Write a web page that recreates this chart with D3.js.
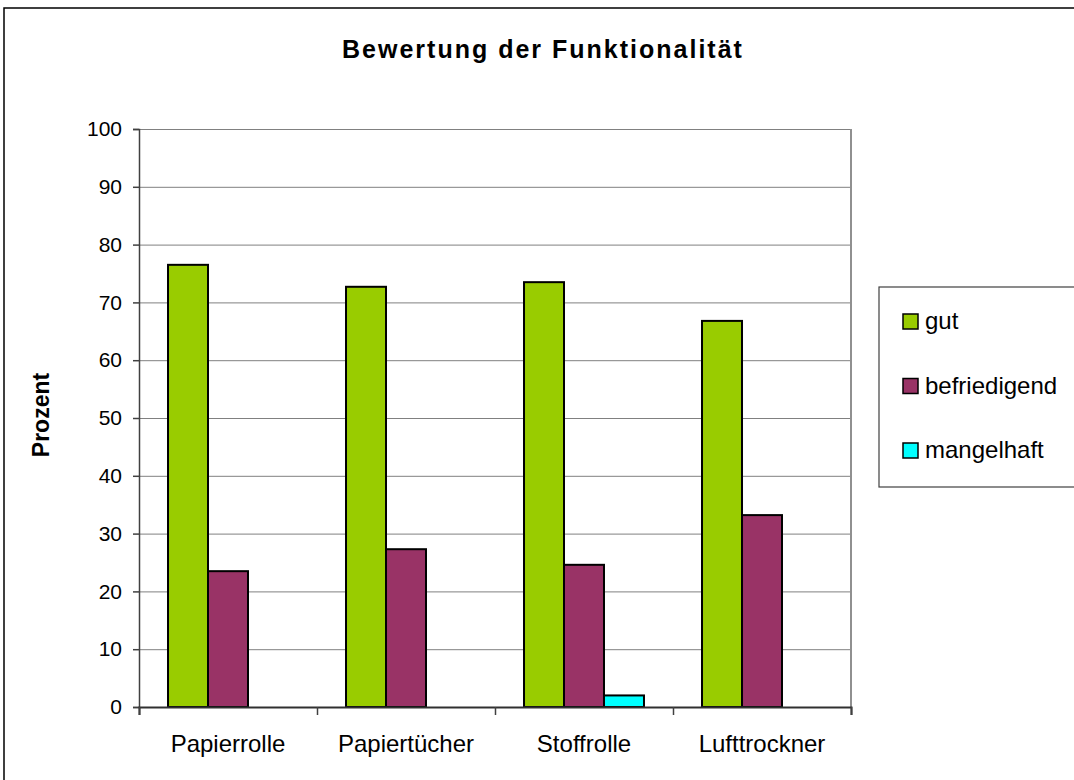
<!DOCTYPE html>
<html>
<head>
<meta charset="utf-8">
<script src="https://cdn.jsdelivr.net/npm/d3@7"></script>
<style>
  body { margin: 0; background: #fff; }
  svg { display: block; font-family: "Liberation Sans", Arial, sans-serif; }
  .grid line { stroke: #808080; stroke-width: 1; }
  .grid path { display: none; }
</style>
</head>
<body>
<svg width="1074" height="780"></svg>
<script>
// data
var categories = ["Papierrolle", "Papiertücher", "Stoffrolle", "Lufttrockner"];
var seriesNames = ["gut", "befriedigend", "mangelhaft"];
var gut = [76.5, 72.7, 73.5, 66.8];
var befriedigend = [23.5, 27.3, 24.6, 33.2];
var mangelhaft = [0, 0, 2.0, 0];
var seriesColors = ["#99cc00", "#993366", "#00ffff"];
var yTicks = [0, 10, 20, 30, 40, 50, 60, 70, 80, 90, 100];

var svg = d3.select("svg"),
    width = +svg.attr("width"),
    height = +svg.attr("height");

var plot = {left: 139, right: 851, top: 129, bottom: 707};

// outer chart border
svg.append("rect")
    .attr("x", 4).attr("y", 8)
    .attr("width", width + 10).attr("height", height + 10)
    .attr("fill", "#fff")
    .attr("stroke", "#000")
    .attr("stroke-width", 1.5);

var y = d3.scaleLinear()
    .domain([0, 100])
    .range([plot.bottom, plot.top]);

var x0 = d3.scaleBand()
    .domain(categories)
    .range([plot.left, plot.right])
    .paddingInner(0.326)
    .paddingOuter(0.163);

var x1 = d3.scaleBand()
    .domain(seriesNames)
    .range([0, x0.bandwidth()]);

var xTick = d3.scaleLinear()
    .domain([0, categories.length])
    .range([plot.left, plot.right]);

// gridlines
svg.append("g")
    .attr("class", "grid")
    .attr("transform", "translate(" + plot.left + ",0)")
    .call(d3.axisLeft(y).tickValues(yTicks).tickSize(-(plot.right - plot.left)).tickFormat(""));

// right border of plot area
svg.append("line")
    .attr("x1", plot.right).attr("x2", plot.right)
    .attr("y1", plot.top).attr("y2", plot.bottom)
    .attr("stroke", "#909090")
    .attr("stroke-width", 2);

// bars
var rows = categories.map(function(c, i) {
  return {cat: c, values: [gut[i], befriedigend[i], mangelhaft[i]]};
});

svg.append("g")
  .selectAll("g")
  .data(rows)
  .enter().append("g")
    .attr("transform", function(d) { return "translate(" + x0(d.cat) + ",0)"; })
  .selectAll("rect")
  .data(function(d) {
    return d.values.map(function(v, j) { return {key: seriesNames[j], value: v, color: seriesColors[j]}; })
      .filter(function(e) { return e.value > 0; });
  })
  .enter().append("rect")
    .attr("x", function(d) { return x1(d.key); })
    .attr("y", function(d) { return y(d.value); })
    .attr("width", x1.bandwidth())
    .attr("height", function(d) { return y(0) - y(d.value); })
    .attr("fill", function(d) { return d.color; })
    .attr("stroke", "#000")
    .attr("stroke-width", 2);

// y axis
var yAxis = svg.append("g")
    .attr("transform", "translate(" + plot.left + ",0)")
    .call(d3.axisLeft(y).tickValues(yTicks).tickSize(6).tickPadding(11));
yAxis.select(".domain").attr("stroke", "#404040").attr("stroke-width", 1.5);
yAxis.selectAll(".tick line").attr("stroke", "#404040").attr("stroke-width", 1.5);
yAxis.selectAll("text")
    .attr("fill", "#000")
    .style("font-size", "21px")
    .style("font-family", "'Liberation Sans', Arial, sans-serif");

// x axis: boundary ticks + category labels
var xAxis = svg.append("g")
    .attr("transform", "translate(0," + plot.bottom + ")")
    .call(d3.axisBottom(xTick).ticks(categories.length).tickSize(8).tickFormat(""));
xAxis.select(".domain").attr("stroke", "#303030").attr("stroke-width", 2);
xAxis.selectAll(".tick line").attr("stroke", "#404040").attr("stroke-width", 1.5);

svg.append("g")
  .selectAll("text")
  .data(categories)
  .enter().append("text")
    .attr("x", function(d) { return x0(d) + x0.bandwidth() / 2; })
    .attr("y", 752)
    .attr("text-anchor", "middle")
    .style("font-size", "24px")
    .text(function(d) { return d; });

// titles
svg.append("text")
    .attr("x", 543)
    .attr("y", 58)
    .attr("text-anchor", "middle")
    .style("font-size", "25px")
    .style("font-weight", "bold")
    .style("letter-spacing", "2px")
    .text("Bewertung der Funktionalität");

svg.append("text")
    .attr("transform", "translate(49,415) rotate(-90)")
    .attr("text-anchor", "middle")
    .style("font-size", "23px")
    .style("font-weight", "bold")
    .text("Prozent");

// legend
svg.append("rect")
    .attr("x", 879).attr("y", 287)
    .attr("width", 220).attr("height", 200)
    .attr("fill", "#fff")
    .attr("stroke", "#404040")
    .attr("stroke-width", 1.2);

var legend = svg.append("g")
  .selectAll("g")
  .data(seriesNames)
  .enter().append("g")
    .attr("transform", function(d, i) { return "translate(903," + (321 + i * 64.5) + ")"; });

legend.append("rect")
    .attr("x", 0).attr("y", -7)
    .attr("width", 15).attr("height", 15)
    .attr("fill", function(d, i) { return seriesColors[i]; })
    .attr("stroke", "#000")
    .attr("stroke-width", 1.5);

legend.append("text")
    .attr("x", 22)
    .attr("y", 0)
    .attr("dy", "0.35em")
    .style("font-size", "24px")
    .text(function(d) { return d; });
</script>
</body>
</html>
